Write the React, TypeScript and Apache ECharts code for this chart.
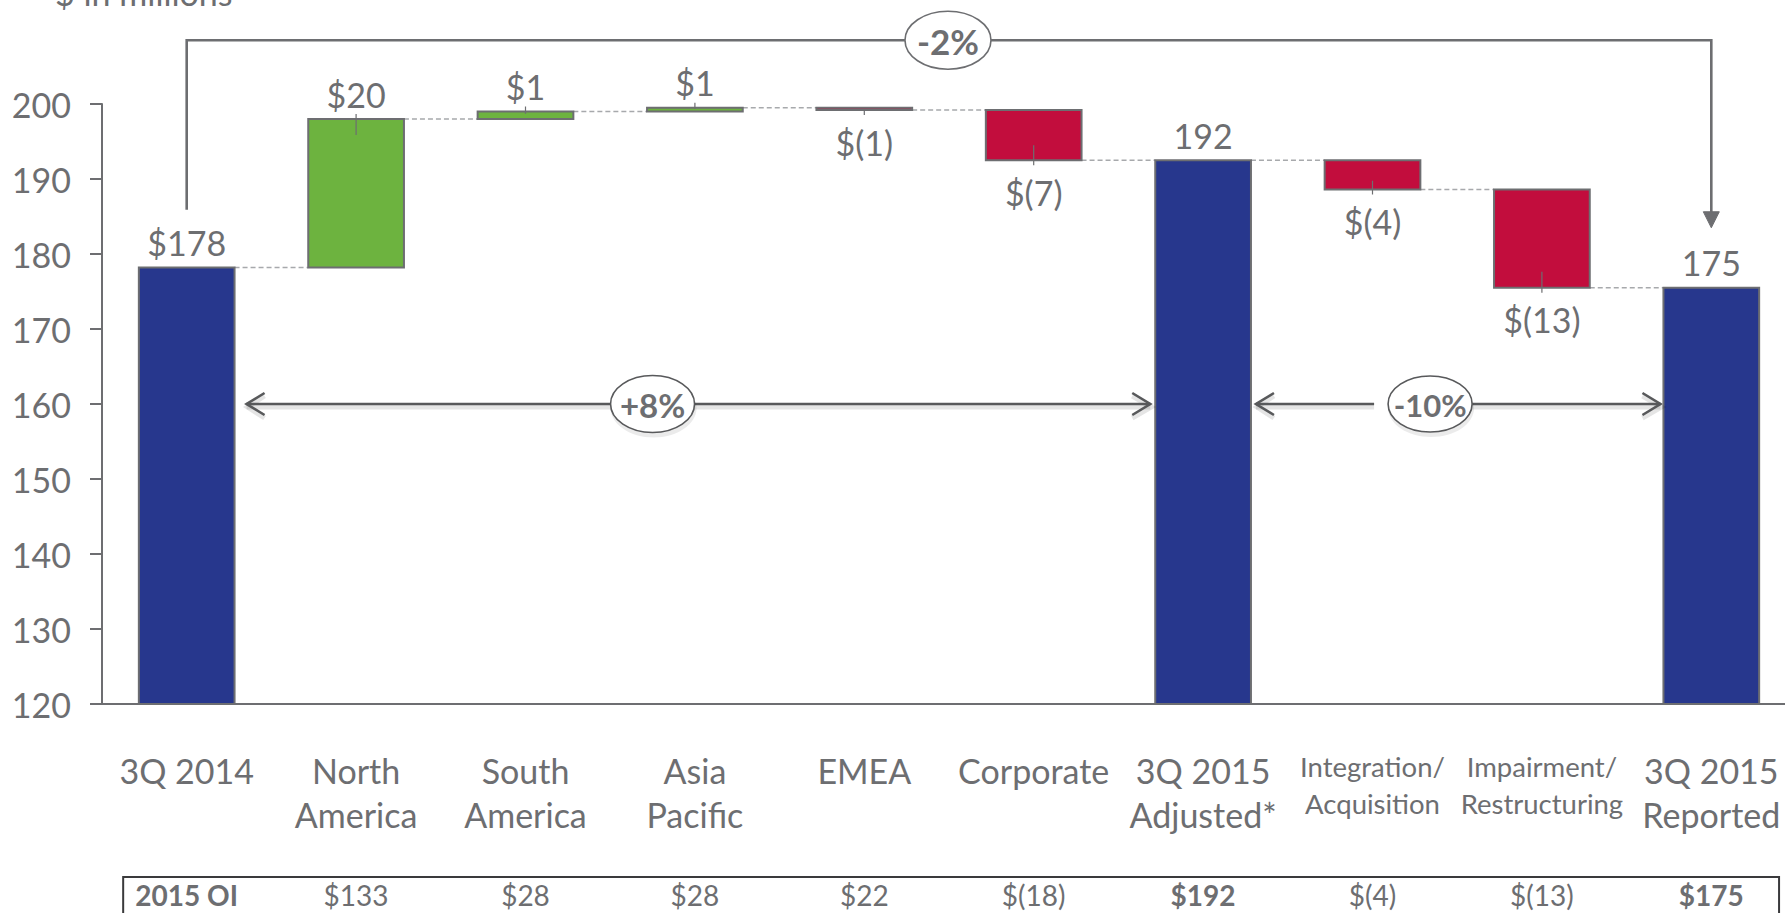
import React, { useEffect, useRef } from "react";
import * as echarts from "echarts";

// ---------- data ----------
const categories = [
  "3Q 2014",
  "North\nAmerica",
  "South\nAmerica",
  "Asia\nPacific",
  "EMEA",
  "Corporate",
  "3Q 2015\nAdjusted*",
  "Integration/\nAcquisition",
  "Impairment/\nRestructuring",
  "3Q 2015\nReported",
];
const smallCategoryLabels = [false, false, false, false, false, false, false, true, true, false];
const kinds = ["total", "delta", "delta", "delta", "delta", "delta", "total", "delta", "delta", "total"];
const values = [178.2, 19.8, 1.0, 0.5, -0.3, -6.7, 192.5, -3.9, -13.1, 175.5];
const valueLabels = ["$178", "$20", "$1", "$1", "$(1)", "$(7)", "192", "$(4)", "$(13)", "175"];
const tableLabels = ["2015 OI", "$133", "$28", "$28", "$22", "$(18)", "$192", "$(4)", "$(13)", "$175"];
const tableBold = [true, false, false, false, false, false, true, false, false, true];
const changeLabels = ["-2%", "+8%", "-10%"];
const Y_MIN = 120;
const Y_MAX = 200;
const Y_STEP = 10;

// ---------- style ----------
const FONT = "Lato, 'Open Sans', sans-serif";
const GRAY = "#6D6E71";
const DARK = "#58595B";
const BLUE = "#27378D";
const GREEN = "#6DB33F";
const RED = "#C20D3D";
const BAR_FRAC = 0.565;

// waterfall geometry from the data
const bars: number[][] = [];
{
  let run = 0;
  values.forEach((v, i) => {
    if (kinds[i] === "total") {
      run = v;
      bars.push([i, Y_MIN, v, v, v]);
    } else {
      const s = run;
      run = s + v;
      bars.push([i, Math.min(s, run), Math.max(s, run), run, v]);
    }
  });
}

export default function App() {
  const ref = useRef<HTMLDivElement>(null);
  useEffect(() => {
    if (!ref.current) return;
    const chart = echarts.init(ref.current, undefined, { renderer: "svg" });
    const option: any = {
      animation: false,
      backgroundColor: "#ffffff",
      grid: { left: 102, right: 4, top: 104, bottom: 209, containLabel: false },
      xAxis: [
        {
          type: "category",
          data: categories,
          axisLine: { show: true, lineStyle: { color: GRAY, width: 2 } },
          axisTick: { show: false },
          splitLine: { show: false },
          axisLabel: {
            interval: 0,
            margin: 44,
            color: GRAY,
            fontFamily: FONT,
            fontSize: 34,
            lineHeight: 44,
            formatter: (v: string, i: number) =>
              smallCategoryLabels[i]
                ? v
                    .split("\n")
                    .map((l) => `{s|${l}}`)
                    .join("\n")
                : v,
            rich: { s: { fontSize: 27.5, lineHeight: 37, color: GRAY, fontFamily: FONT } },
          },
        },
        {
          type: "category",
          position: "bottom",
          data: tableLabels,
          axisLine: { show: false },
          axisTick: { show: false },
          splitLine: { show: false },
          axisLabel: {
            interval: 0,
            margin: 175,
            color: GRAY,
            fontFamily: FONT,
            fontSize: 28,
            lineHeight: 32,
            formatter: (v: string, i: number) => (tableBold[i] ? `{b|${v}}` : v),
            rich: { b: { fontSize: 28, lineHeight: 32, fontWeight: "bold", color: GRAY, fontFamily: FONT } },
          },
        },
      ],
      yAxis: {
        type: "value",
        min: Y_MIN,
        max: Y_MAX,
        interval: Y_STEP,
        axisLine: { show: true, lineStyle: { color: GRAY, width: 2 } },
        axisTick: { show: true, length: 12, lineStyle: { color: GRAY, width: 2 } },
        splitLine: { show: false },
        axisLabel: { color: GRAY, fontFamily: FONT, fontSize: 34, margin: 31 },
      },
      series: [
        {
          type: "custom",
          xAxisIndex: 0,
          yAxisIndex: 0,
          data: bars,
          encode: { x: 0, y: [1, 2] },
          clip: false,
          renderItem: (_params: any, api: any) => {
            const i = api.value(0);
            const lo = api.value(1);
            const hi = api.value(2);
            const end = api.value(3);
            const v = api.value(4);
            const band = api.size([1, 0])[0];
            const w = band * BAR_FRAC;
            const top = api.coord([i, hi]);
            const bot = api.coord([i, lo]);
            const cx = top[0];
            const kind = kinds[i];
            const isNeg = kind === "delta" && v < 0;
            const fill = kind === "total" ? BLUE : v >= 0 ? GREEN : RED;
            const children: any[] = [];
            if (i < categories.length - 1) {
              const e = api.coord([i, end]);
              const nx = api.coord([i + 1, end])[0];
              children.push({
                type: "line",
                shape: { x1: cx + w / 2, y1: e[1], x2: nx - w / 2, y2: e[1] },
                style: { stroke: "#A7A9AC", lineWidth: 1.5, lineDash: [5, 3] },
                z2: 1,
              });
            }
            children.push({
              type: "rect",
              shape: { x: cx - w / 2, y: top[1], width: w, height: Math.max(bot[1] - top[1], 1) },
              style: { fill, stroke: GRAY, lineWidth: 2 },
              z2: 2,
            });
            if (kind === "delta") {
              const h = bot[1] - top[1];
              const inside = Math.min(16, h * 0.3);
              const edge = isNeg ? bot[1] : top[1];
              children.push({
                type: "line",
                shape: {
                  x1: cx,
                  y1: isNeg ? edge + 5 : edge - 5,
                  x2: cx,
                  y2: isNeg ? edge - inside : edge + inside,
                },
                style: { stroke: GRAY, lineWidth: 1.2 },
                z2: 3,
              });
            }
            children.push({
              type: "text",
              x: cx,
              y: isNeg ? bot[1] + 15 : top[1] - 8,
              style: {
                text: valueLabels[i],
                fill: GRAY,
                fontFamily: FONT,
                fontSize: 34,
                align: "center",
                verticalAlign: isNeg ? "top" : "bottom",
              },
              z2: 4,
            });
            return { type: "group", children };
          },
        },
      ],
    };
    chart.setOption(option);

    // ---------- annotations (positions derived from the axes) ----------
    const P = (x: number, y: number) => chart.convertToPixel({ gridIndex: 0 }, [x, y]) as number[];
    const c0 = P(0, Y_MIN)[0];
    const band = P(1, Y_MIN)[0] - c0;
    const cx = (f: number) => c0 + f * band;
    const yv = (v: number) => P(0, v)[1];
    const w = band * BAR_FRAC;
    const SH = "rgba(0,0,0,0.10)";
    const hline = (x1: number, x2: number, y: number) => [
      { type: "line", shape: { x1, y1: y + 3, x2, y2: y + 3 }, style: { stroke: SH, lineWidth: 5 }, z: 9 },
      { type: "line", shape: { x1, y1: y, x2, y2: y }, style: { stroke: DARK, lineWidth: 2.6 }, z: 10 },
    ];
    const chevron = (x: number, y: number, dir: number) => [
      {
        type: "polyline",
        shape: { points: [[x + dir * 18, y - 8], [x + 1, y + 3], [x + dir * 18, y + 14]] },
        style: { stroke: SH, lineWidth: 5, fill: null },
        z: 9,
      },
      {
        type: "polyline",
        shape: { points: [[x + dir * 18, y - 11], [x, y], [x + dir * 18, y + 11]] },
        style: { stroke: DARK, lineWidth: 2.6, fill: null },
        z: 10,
      },
    ];
    const bubble = (x: number, y: number, rx: number, ry: number, text: string, fs: number, sh: boolean) => [
      ...(sh
        ? [
            {
              type: "ellipse",
              shape: { cx: x + 1, cy: y + 4, rx: rx + 1, ry: ry + 1 },
              style: { fill: "rgba(0,0,0,0.08)", stroke: null },
              z: 19,
            },
          ]
        : []),
      {
        type: "ellipse",
        shape: { cx: x, cy: y, rx, ry },
        style: { fill: "#ffffff", stroke: sh ? DARK : GRAY, lineWidth: 1.6 },
        z: 20,
      },
      {
        type: "text",
        x,
        y: y + 1,
        style: {
          text,
          fill: GRAY,
          fontFamily: FONT,
          fontSize: fs,
          fontWeight: "bold",
          align: "center",
          verticalAlign: "middle",
        },
        z: 21,
      },
    ];

    const yArrow = yv(160);
    const aL = cx(0) + w / 2 + 12;
    const aR = cx(6) - w / 2 - 5;
    const bL = cx(6) + w / 2 + 5;
    const bR = cx(9) - w / 2 - 3;
    const bC = cx(7.34);
    const brTop = yv(208.5);
    const brLeftBottom = yv(185.9);
    const brTip = yv(183.5);
    const brL = cx(0);
    const brR = cx(9);

    const graphic: any[] = [
      {
        type: "text",
        x: 55,
        y: -8,
        style: { text: "$ in millions", fill: GRAY, fontFamily: FONT, fontSize: 34, verticalAlign: "middle" },
        z: 5,
      },
      {
        type: "polyline",
        shape: { points: [[brL, brLeftBottom], [brL, brTop], [brR, brTop], [brR, brTip - 14]] },
        style: { stroke: GRAY, lineWidth: 2.6, fill: null },
        z: 10,
      },
      {
        type: "polygon",
        shape: { points: [[brR - 8, brTip - 16], [brR + 8, brTip - 16], [brR, brTip]] },
        style: { fill: GRAY, stroke: GRAY, lineWidth: 1 },
        z: 10,
      },
      ...bubble(cx(4.494), brTop, 43, 29, changeLabels[0], 35, false),
      ...hline(aL, aR, yArrow),
      ...chevron(aL, yArrow, 1),
      ...chevron(aR, yArrow, -1),
      ...bubble(cx(2.75), yArrow, 42, 28.5, changeLabels[1], 33, true),
      ...hline(bL, bC - 42 - 14, yArrow),
      ...hline(bC + 42, bR, yArrow),
      ...chevron(bL, yArrow, 1),
      ...chevron(bR, yArrow, -1),
      ...bubble(bC, yArrow, 42, 28, changeLabels[2], 31, true),
      {
        type: "rect",
        shape: { x: cx(-0.375), y: 877, width: cx(9.4) - cx(-0.375), height: 80 },
        style: { fill: null, stroke: "#3A3A3C", lineWidth: 2 },
        z: 5,
      },
    ];
    chart.setOption({ graphic });

    return () => chart.dispose();
  }, []);
  return (
    <div style={{ position: "fixed", left: 0, top: 0, width: 1785, height: 913, overflow: "hidden", background: "#fff" }}>
      <div ref={ref} style={{ position: "absolute", left: 0, top: 0, width: 1800, height: 913 }} />
    </div>
  );
}
